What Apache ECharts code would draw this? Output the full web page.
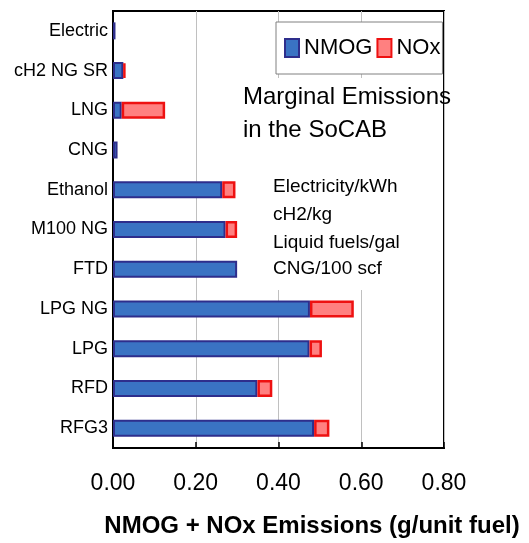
<!DOCTYPE html>
<html>
<head>
<meta charset="utf-8">
<script src="https://cdn.jsdelivr.net/npm/echarts@6/dist/echarts.min.js"></script>
<style>html,body{margin:0;padding:0;background:#fff;}#c{width:529px;height:543px;}</style>
</head>
<body>
<div id="c"></div>
<script>
const categories = ["Electric", "cH2 NG SR", "LNG", "CNG", "Ethanol", "M100 NG", "FTD", "LPG NG", "LPG", "RFD", "RFG3"];
const nmog = [0.006, 0.025, 0.021, 0.011, 0.264, 0.272, 0.300, 0.476, 0.475, 0.349, 0.486];
const nox  = [0, 0.005, 0.105, 0, 0.032, 0.028, 0, 0.106, 0.030, 0.036, 0.037];
const xTicks = [0, 0.2, 0.4, 0.6, 0.8];
const FONT = "'Liberation Sans', Arial, sans-serif";

const chart = echarts.init(document.getElementById('c'), null, {renderer: 'canvas'});
chart.setOption({
  animation: false,
  backgroundColor: '#fff',
  grid: {left: 113, right: 85, top: 11, bottom: 86, show: true, borderColor: '#000', borderWidth: 2, containLabel: false},
  legend: {
    left: 276, top: 22,
    padding: [15, 2, 15, 8],
    itemGap: 4,
    itemWidth: 14, itemHeight: 18,
    icon: 'rect',
    backgroundColor: '#fff',
    borderColor: '#808080', borderWidth: 1,
    textStyle: {fontFamily: FONT, fontSize: 22, color: '#000'},
    data: ['NMOG', 'NOx']
  },
  xAxis: {
    type: 'value', min: xTicks[0], max: xTicks[xTicks.length - 1], interval: 0.2,
    axisLine: {show: true, lineStyle: {color: '#000', width: 2}},
    axisTick: {show: true, inside: true, length: 6, lineStyle: {color: '#000', width: 1.5}},
    splitLine: {show: true, lineStyle: {color: '#c0c0c0', width: 1}},
    axisLabel: {fontFamily: FONT, fontSize: 23, color: '#000', margin: 24, formatter: v => v.toFixed(2)},
    name: 'NMOG + NOx Emissions (g/unit fuel)',
    nameLocation: 'middle', nameGap: 66,
    nameTextStyle: {fontFamily: FONT, fontSize: 24, fontWeight: 'bold', color: '#000', padding: [0, 0, 0, 67]}
  },
  yAxis: {
    type: 'category', data: categories, inverse: true,
    axisLine: {show: true, lineStyle: {color: '#000', width: 2}},
    axisTick: {show: false},
    splitLine: {show: false},
    axisLabel: {fontFamily: FONT, fontSize: 18, color: '#000', margin: 5}
  },
  series: [
    {name: 'NMOG', type: 'bar', stack: 'a', data: nmog.map(v => v > 0 ? v : '-'), barWidth: 17,
     itemStyle: {color: '#3a73c3', borderColor: '#2e2e8c', borderWidth: 2}},
    {name: 'NOx', type: 'bar', stack: 'a', data: nox.map(v => v > 0 ? v : '-'), barWidth: 17,
     itemStyle: {color: '#ff8080', borderColor: '#ee1111', borderWidth: 2.5}}
  ],
  graphic: [
    {type: 'rect', z: 5, shape: {x: 241, y: 78, width: 200, height: 212}, style: {fill: '#fff'}},
    {type: 'text', z: 6, x: 243, y: 97, style: {text: 'Marginal Emissions', font: "24px " + FONT, fill: '#000', verticalAlign: 'middle'}},
    {type: 'text', z: 6, x: 243, y: 130, style: {text: 'in the SoCAB', font: "24px " + FONT, fill: '#000', verticalAlign: 'middle'}},
    {type: 'text', z: 6, x: 273, y: 187, style: {text: 'Electricity/kWh', font: "19px " + FONT, fill: '#000', verticalAlign: 'middle'}},
    {type: 'text', z: 6, x: 273, y: 215, style: {text: 'cH2/kg', font: "19px " + FONT, fill: '#000', verticalAlign: 'middle'}},
    {type: 'text', z: 6, x: 273, y: 243, style: {text: 'Liquid fuels/gal', font: "19px " + FONT, fill: '#000', verticalAlign: 'middle'}},
    {type: 'text', z: 6, x: 273, y: 269, style: {text: 'CNG/100 scf', font: "19px " + FONT, fill: '#000', verticalAlign: 'middle'}}
  ]
});
</script>
</body>
</html>
